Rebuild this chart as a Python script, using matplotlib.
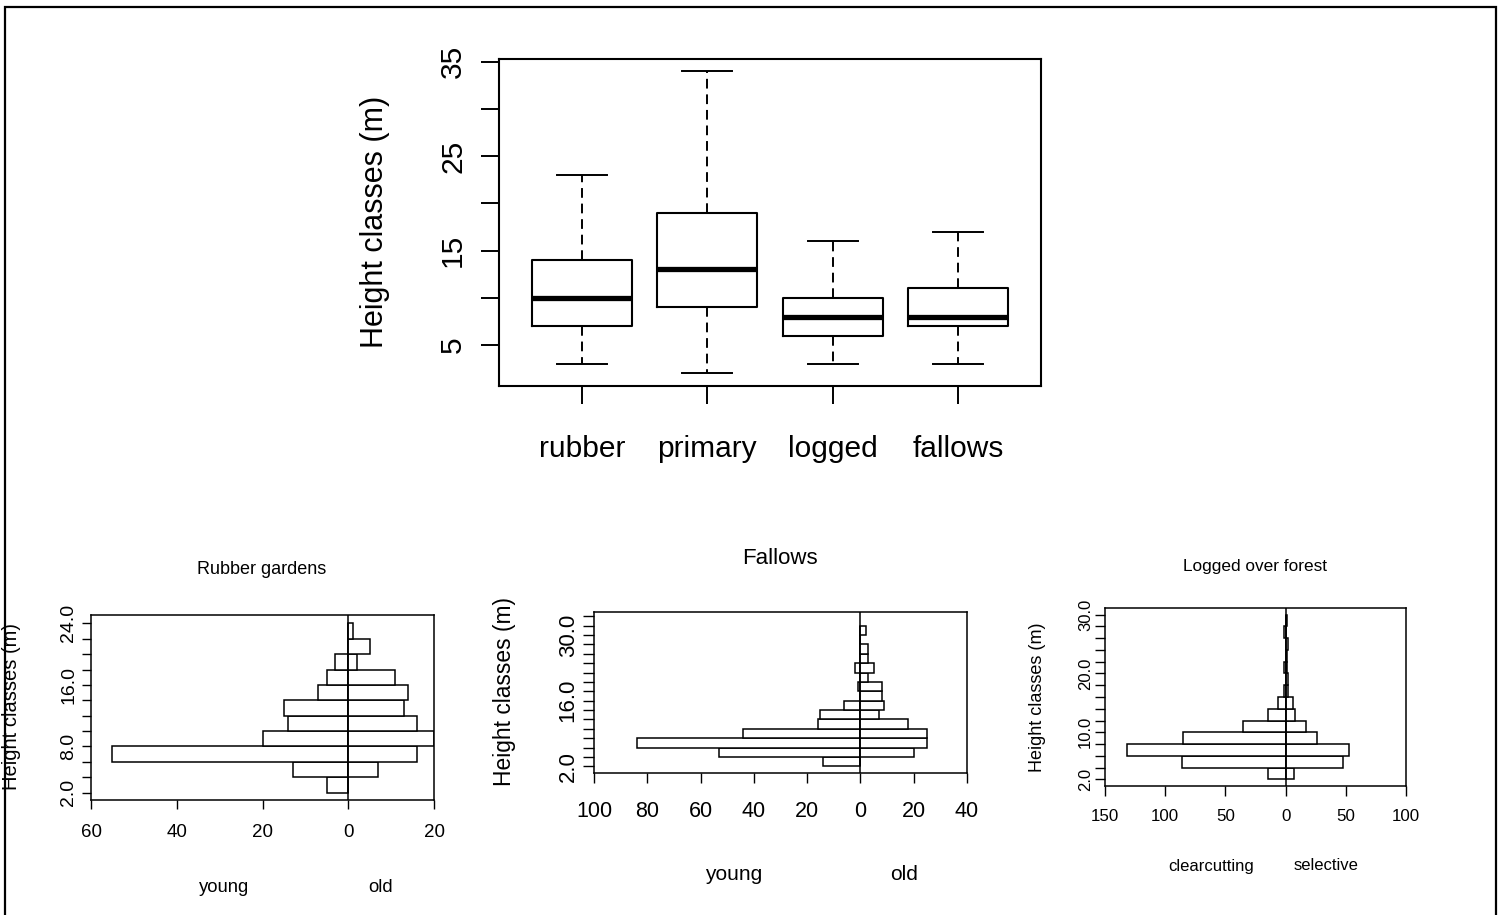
import numpy as np
import matplotlib
matplotlib.use('Agg')
from matplotlib import pyplot as plt
from matplotlib.patches import Rectangle

plt.rcParams['font.family'] = ['Liberation Sans', 'DejaVu Sans']

W, H = 1503, 915

# boxplot of height classes per land use
box_labels = ['rubber', 'primary', 'logged', 'fallows']
box_low = [3, 2, 3, 3]
box_q1 = [7, 9, 6, 7]
box_med = [10, 13, 8, 8]
box_q3 = [14, 19, 10, 11]
box_high = [23, 34, 16, 17]

# rubber gardens, bins of 2 m starting at these lower edges
rubber_bins = [2, 4, 6, 8, 10, 12, 14, 16, 18, 20, 22]
rubber_young = [5, 13, 55, 20, 14, 15, 7, 5, 3, 0, 0]
rubber_old = [0, 7, 16, 20, 16, 13, 14, 11, 2, 5, 1]

# fallows
fallow_bins = [2, 4, 6, 8, 10, 12, 14, 16, 18, 20, 22, 24, 26, 28, 30]
fallow_young = [14, 53, 84, 44, 16, 15, 6, 0, 1, 0, 2, 0, 0, 0, 0]
fallow_old = [0, 20, 25, 25, 18, 7, 9, 8, 8, 3, 5, 3, 3, 0, 2]

# logged over forest
logged_bins = [2, 4, 6, 8, 10, 12, 14, 16, 18, 20, 22, 24, 26, 28]
logged_clear = [15, 86, 132, 85, 35, 15, 6, 1, 0, 1, 0, 0, 1, 0]
logged_sel = [7, 48, 53, 26, 17, 8, 6, 2, 2, 1, 1, 2, 0, 1]


def px_rect(l, t, r, b):
    return [l / W, 1 - b / H, (r - l) / W, (b - t) / H]


def ftext(x, y, s, **kw):
    fig.text(x / W, 1 - y / H, s, ha='center', va='center', **kw)


def pyramid(ax, bins, left, right, xlim, xticks, ylim, ytop, ylabs, fs_x, fs_y,
            xlen, xpad, ylen, ypad):
    bins = np.array(bins)
    ax.barh(bins, -np.array(left), height=2, align='edge', color='white',
            edgecolor='black', linewidth=1.1)
    ax.barh(bins, right, height=2, align='edge', color='white',
            edgecolor='black', linewidth=1.1)
    ax.axvline(0, color='black', lw=1.1)
    ax.set_xlim(xlim)
    ax.set_ylim(ylim)
    ax.set_xticks(xticks)
    ax.set_xticklabels([str(abs(v)) for v in xticks])
    yt = np.arange(2, ytop + 1, 2)
    ax.set_yticks(yt)
    ax.set_yticklabels([('%.1f' % v) if v in ylabs else '' for v in yt],
                       rotation=90, va='center')
    ax.tick_params(axis='x', length=xlen, width=1, labelsize=fs_x, pad=xpad)
    ax.tick_params(axis='y', length=ylen, width=1, labelsize=fs_y, pad=ypad)
    for s in ax.spines.values():
        s.set_linewidth(1.1)


fig = plt.figure(figsize=(W / 100, H / 100), dpi=100)

# outer frame
fig.patches.append(Rectangle((5 / W, -0.02), 1491 / W, 1.02 - 7 / H,
                             transform=fig.transFigure, fill=False,
                             edgecolor='black', lw=1.6))

# ---- boxplot ----
ax = fig.add_axes(px_rect(499, 59, 1041, 386))
stats = []
for i in range(len(box_labels)):
    stats.append({'whislo': box_low[i], 'q1': box_q1[i], 'med': box_med[i],
                  'q3': box_q3[i], 'whishi': box_high[i], 'fliers': []})
ax.bxp(stats, positions=[1, 2, 3, 4], widths=0.8, showfliers=False,
       boxprops=dict(color='black', lw=1.5),
       medianprops=dict(color='black', lw=3.8, solid_capstyle='butt'),
       whiskerprops=dict(color='black', lw=1.4, linestyle=(0, (5, 3))),
       capprops=dict(color='black', lw=1.4))
ax.set_xlim(0.336, 4.664)
ax.set_ylim(0.65, 35.3)
ax.set_xticks([1, 2, 3, 4])
ax.set_xticklabels(box_labels)
yt = [5, 10, 15, 20, 25, 30, 35]
ax.set_yticks(yt)
ax.set_yticklabels([str(v) if v in (5, 15, 25, 35) else '' for v in yt],
                   rotation=90, va='center')
ax.tick_params(axis='x', length=13, width=1.4, labelsize=21.5, pad=22)
ax.tick_params(axis='y', length=13, width=1.4, labelsize=21.5, pad=10)
for s in ax.spines.values():
    s.set_linewidth(1.5)
ftext(375, 222, 'Height classes (m)', fontsize=22, rotation=90)

# ---- rubber gardens ----
ax1 = fig.add_axes(px_rect(91, 615, 434, 800))
pyramid(ax1, rubber_bins, rubber_young, rubber_old, (-60, 20),
        [-60, -40, -20, 0, 20], (1.05, 25.08), 24, (2, 8, 16, 24),
        13.5, 14, 6.5, 11, 6.5, 3.4)
ftext(262, 570, 'Rubber gardens', fontsize=13)
ftext(12, 707, 'Height classes (m)', fontsize=14.5, rotation=90)
ftext(224, 887, 'young', fontsize=13.3)
ftext(381, 887, 'old', fontsize=13.3)

# ---- fallows ----
ax2 = fig.add_axes(px_rect(594, 612, 967, 773))
pyramid(ax2, fallow_bins, fallow_young, fallow_old, (-100, 40),
        [-100, -80, -60, -40, -20, 0, 20, 40], (0.6, 34.9), 34, (2, 16, 30),
        15.5, 16, 7, 13.5, 8, 3)
ftext(780, 558, 'Fallows', fontsize=16)
ftext(505, 691, 'Height classes (m)', fontsize=16.4, rotation=90)
ftext(734, 874, 'young', fontsize=15)
ftext(904, 874, 'old', fontsize=15)

# ---- logged over forest ----
ax3 = fig.add_axes(px_rect(1105, 608, 1406, 786))
pyramid(ax3, logged_bins, logged_clear, logged_sel, (-150, 100),
        [-150, -100, -50, 0, 50, 100], (0.86, 31.14), 30, (2, 10, 20, 30),
        12.2, 12, 7, 9.5, 7, 1.5)
ftext(1255, 566, 'Logged over forest', fontsize=12.4)
ftext(1037, 697, 'Height classes (m)', fontsize=13, rotation=90)
ftext(1211, 866, 'clearcutting', fontsize=12)
ftext(1326, 866, 'selective', fontsize=12)

fig.savefig('out.png', dpi=100)
